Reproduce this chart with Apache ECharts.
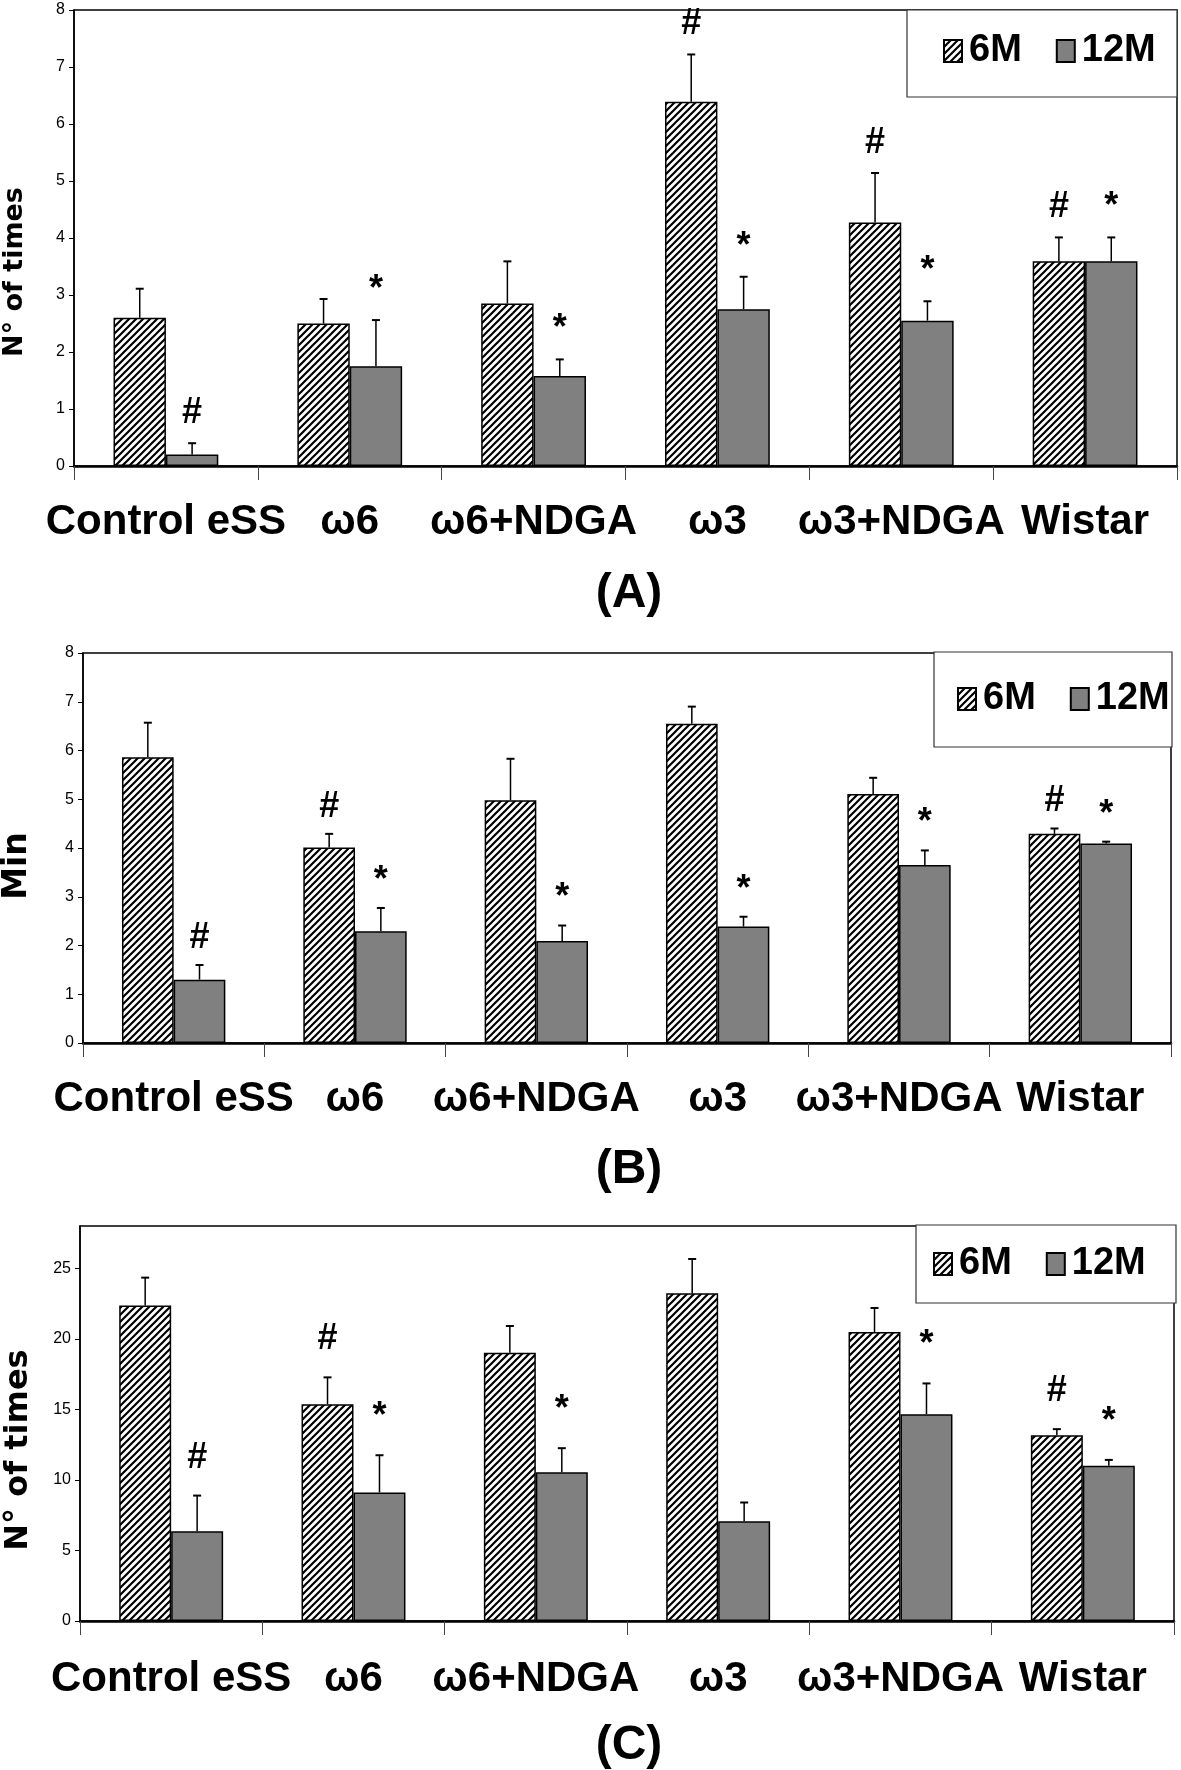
<!DOCTYPE html>
<html><head><meta charset="utf-8">
<script src="https://cdn.jsdelivr.net/npm/echarts@6/dist/echarts.min.js"></script>
<style>html,body{margin:0;padding:0;background:#fff}#c{width:1181px;height:1770px}</style>
</head><body><div id="c"></div>
<script>
// ---------- data ----------
const categories = ['Control eSS', 'ω6', 'ω6+NDGA', 'ω3', 'ω3+NDGA', 'Wistar'];
const seriesNames = ['6M', '12M'];

// Panel A (N° of times)
const a6M = [2.60, 2.50, 2.85, 6.39, 4.27, 3.59];
const a6Mse = [0.51, 0.43, 0.74, 0.83, 0.87, 0.42];
const a12M = [0.20, 1.75, 1.58, 2.75, 2.55, 3.59];
const a12Mse = [0.20, 0.81, 0.29, 0.57, 0.34, 0.42];
const a6Mmark = ['', '', '', '#', '#', '#'];
const a12Mmark = ['#', '*', '*', '*', '*', '*'];

// Panel B (Min)
const b6M = [5.86, 4.01, 4.98, 6.55, 5.11, 4.29];
const b6Mse = [0.71, 0.28, 0.85, 0.35, 0.33, 0.11];
const b12M = [1.30, 2.29, 2.09, 2.39, 3.65, 4.09];
const b12Mse = [0.30, 0.48, 0.32, 0.20, 0.30, 0.04];
const b6Mmark = ['', '#', '', '', '', '#'];
const b12Mmark = ['#', '*', '*', '*', '*', '*'];

// Panel C (N° of times)
const c6M = [22.37, 15.37, 19.02, 23.23, 20.48, 13.17];
const c6Mse = [1.97, 1.90, 1.89, 2.43, 1.71, 0.43];
const c12M = [6.36, 9.11, 10.55, 7.07, 14.66, 11.00];
const c12Mse = [2.53, 2.64, 1.70, 1.33, 2.18, 0.42];
const c6Mmark = ['', '#', '', '', '', '#'];
const c12Mmark = ['#', '*', '*', '', '*', '*'];

const yTicksA = {min: 0, max: 8, interval: 1};
const yTicksB = {min: 0, max: 8, interval: 1};
const yTicksC = {min: 0, max: 28, interval: 5};

// ---------- styles ----------
const SANS = '"Liberation Sans", Arial, sans-serif';
const WIDE = '"DejaVu Sans", "Liberation Sans", sans-serif';

function hatch() {
  const s = 7, cv = document.createElement('canvas');
  cv.width = s; cv.height = s;
  const g = cv.getContext('2d');
  g.fillStyle = '#fff'; g.fillRect(0, 0, s, s);
  g.strokeStyle = '#000'; g.lineWidth = 2.2;
  g.beginPath();
  g.moveTo(-1, s + 1); g.lineTo(s + 1, -1);
  g.moveTo(-1, 1); g.lineTo(1, -1);
  g.moveTo(s - 1, s + 1); g.lineTo(s + 1, s - 1);
  g.stroke();
  return {image: cv, repeat: 'repeat'};
}
const hatchFill = hatch();
const GAP = 0.43;

const panels = [
  {grid: {left: 74, top: 10, width: 1103, height: 456}, y: yTicksA,
   d: [[a6M, a6Mse, a6Mmark], [a12M, a12Mse, a12Mmark]], markOff: 30, labelMargin: 35},
  {grid: {left: 83, top: 653, width: 1088, height: 390}, y: yTicksB,
   d: [[b6M, b6Mse, b6Mmark], [b12M, b12Mse, b12Mmark]], markOff: 27, labelMargin: 35},
  {grid: {left: 80, top: 1226, width: 1094, height: 395}, y: yTicksC,
   d: [[c6M, c6Mse, c6Mmark], [c12M, c12Mse, c12Mmark]], markOff: 38, labelMargin: 37}
];

const grids = [], xAxes = [], yAxes = [], series = [];
panels.forEach((p, gi) => {
  grids.push(Object.assign({show: true, borderColor: '#000', borderWidth: 1.5, backgroundColor: 'transparent'}, p.grid));
  xAxes.push({
    type: 'category', gridIndex: gi, data: categories,
    axisLine: {lineStyle: {color: '#000', width: 2.5}},
    axisTick: {show: true, length: 14, lineStyle: {color: '#444', width: 1}},
    axisLabel: {color: '#000', fontFamily: SANS, fontWeight: 'bold', fontSize: 42, margin: p.labelMargin, interval: 0}
  });
  yAxes.push({
    type: 'value', gridIndex: gi, min: p.y.min, max: p.y.max, interval: p.y.interval,
    splitLine: {show: false},
    axisLine: {show: true, lineStyle: {color: '#000', width: 1.5}},
    axisTick: {show: true, length: 5, lineStyle: {color: '#000', width: 1}},
    axisLabel: {color: '#000', fontFamily: SANS, fontSize: 16, margin: 9, showMaxLabel: p.y.max % p.y.interval === 0}
  });
  p.d.forEach((sd, si) => {
    series.push({
      type: 'bar', name: seriesNames[si], xAxisIndex: gi, yAxisIndex: gi,
      data: sd[0], barGap: '0%', barCategoryGap: (GAP * 100) + '%',
      itemStyle: {color: si === 0 ? hatchFill : '#808080', borderColor: '#000', borderWidth: 1.5},
      emphasis: {disabled: true}, animation: false
    });
  });
  p.d.forEach((sd, si) => {
    const marks = sd[2];
    series.push({
      type: 'custom', xAxisIndex: gi, yAxisIndex: gi, z: 5, silent: true, animation: false,
      data: sd[0].map((v, i) => [i, v, sd[1][i]]),
      renderItem: function (params, api) {
        const ci = api.value(0), v = api.value(1), se = api.value(2);
        const band = api.size([1, 0])[0];
        const bw = band * (1 - GAP) / 2;
        const cx = api.coord([ci, 0])[0] + (si === 0 ? -bw / 2 : bw / 2);
        const yb = api.coord([ci, v])[1], yt = api.coord([ci, v + se])[1];
        const ch = [
          {type: 'line', shape: {x1: cx, y1: yb, x2: cx, y2: yt}, style: {stroke: '#000', lineWidth: 1.5}},
          {type: 'line', shape: {x1: cx - 4, y1: yt, x2: cx + 4, y2: yt}, style: {stroke: '#000', lineWidth: 2}}
        ];
        const m = marks[params.dataIndex];
        if (m) {
          ch.push({type: 'text', style: {text: m, x: cx, y: yt - p.markOff, align: 'center', verticalAlign: 'middle',
            fill: '#000', font: 'bold 36px ' + SANS}});
        }
        return {type: 'group', children: ch};
      }
    });
  });
});

const legendBoxes = [
  {x: 907, y: 10, w: 270, h: 87, lx: 943, ly: 32},
  {x: 934, y: 652, w: 238, h: 95, lx: 957, ly: 680},
  {x: 916, y: 1225, w: 260, h: 78, lx: 933, ly: 1245}
];
const legends = legendBoxes.map(b => ({
  left: b.lx, top: b.ly, width: 260, orient: 'horizontal', itemWidth: 18, itemHeight: 22, itemGap: 34,
  padding: 0, selectedMode: false, data: seriesNames, icon: 'rect', z: 100,
  textStyle: {fontFamily: SANS, fontWeight: 'bold', fontSize: 38, color: '#000', padding: [0, 0, 0, 2]}
}));

const yNames = [
  {text: 'N° of times', x: 15, y: 272, size: 27},
  {text: 'Min', x: 17, y: 866, size: 33},
  {text: 'N° of times', x: 19, y: 1450, size: 32}
];
const panelLabels = [
  {text: '(A)', x: 629, y: 594},
  {text: '(B)', x: 629, y: 1170},
  {text: '(C)', x: 629, y: 1746}
];

const graphic = [];
legendBoxes.forEach(b => graphic.push({type: 'rect', shape: {x: b.x, y: b.y, width: b.w, height: b.h}, z: 50,
  style: {fill: '#fff', stroke: '#333', lineWidth: 1.2}}));
yNames.forEach(t => graphic.push({type: 'text', x: t.x, y: t.y, rotation: Math.PI / 2, z: 60,
  style: {text: t.text, align: 'center', verticalAlign: 'middle', fill: '#000', font: 'bold ' + t.size + 'px ' + WIDE}}));
panelLabels.forEach(t => graphic.push({type: 'text', x: t.x, y: t.y, z: 60,
  style: {text: t.text, align: 'center', verticalAlign: 'middle', fill: '#000', font: 'bold 48px ' + SANS}}));

const chart = echarts.init(document.getElementById('c'), null, {renderer: 'canvas'});
chart.setOption({
  animation: false,
  grid: grids, xAxis: xAxes, yAxis: yAxes, series: series,
  legend: legends,
  graphic: graphic
});
</script></body></html>
